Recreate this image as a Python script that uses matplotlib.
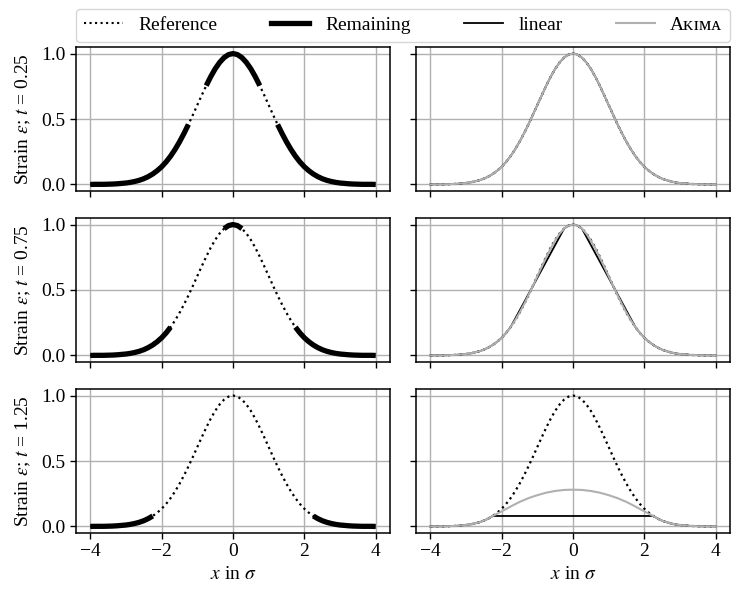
import numpy as np
import matplotlib
matplotlib.use("Agg")
import matplotlib.pyplot as plt
from matplotlib.lines import Line2D

plt.rcParams['font.family'] = ['Liberation Serif', 'DejaVu Serif']
plt.rcParams['mathtext.fontset'] = 'stix'
plt.rcParams['font.size'] = 14

# Sample positions (step 0.125 on [-4, 4]) and the reference strain profile
x_ref = np.linspace(-4, 4, 65)
y_ref = [0.000, 0.001, 0.001, 0.001, 0.002, 0.003, 0.005, 0.008,
         0.011, 0.016, 0.023, 0.032, 0.044, 0.060, 0.080, 0.105,
         0.135, 0.172, 0.216, 0.267, 0.325, 0.389, 0.458, 0.531,
         0.607, 0.682, 0.755, 0.823, 0.883, 0.932, 0.969, 0.992,
         1.000,
         0.992, 0.969, 0.932, 0.883, 0.823, 0.755, 0.682, 0.607,
         0.531, 0.458, 0.389, 0.325, 0.267, 0.216, 0.172, 0.135,
         0.105, 0.080, 0.060, 0.044, 0.032, 0.023, 0.016, 0.011,
         0.008, 0.005, 0.003, 0.002, 0.001, 0.001, 0.001, 0.000]

t_values = [0.25, 0.75, 1.25]
# removed (missing) x-intervals for each t
gaps = {
    0.25: [(-1.25, -0.75), (0.75, 1.25)],
    0.75: [(-1.75, -0.25), (0.25, 1.75)],
    1.25: [(-2.25, 2.25)],
}
# Akima reconstruction inside the gaps (x positions, values)
akima_gap = {
    0.25: [
        ([-1.25, -1.125, -1.0, -0.875, -0.75], [0.458, 0.531, 0.607, 0.682, 0.755]),
        ([0.75, 0.875, 1.0, 1.125, 1.25], [0.755, 0.682, 0.607, 0.531, 0.458]),
    ],
    0.75: [
        ([-1.75, -1.625, -1.5, -1.375, -1.25, -1.125, -1.0, -0.875, -0.75, -0.625, -0.5, -0.375, -0.25],
         [0.216, 0.268, 0.326, 0.390, 0.459, 0.531, 0.605, 0.678, 0.750, 0.818, 0.879, 0.930, 0.969]),
        ([0.25, 0.375, 0.5, 0.625, 0.75, 0.875, 1.0, 1.125, 1.25, 1.375, 1.5, 1.625, 1.75],
         [0.969, 0.930, 0.879, 0.818, 0.750, 0.678, 0.605, 0.531, 0.459, 0.390, 0.326, 0.268, 0.216]),
    ],
    1.25: [
        ([-2.25, -2.0, -1.75, -1.5, -1.25, -1.0, -0.75, -0.5, -0.25, 0.0,
          0.25, 0.5, 0.75, 1.0, 1.25, 1.5, 1.75, 2.0, 2.25],
         [0.080, 0.115, 0.152, 0.187, 0.216, 0.239, 0.258, 0.271, 0.279, 0.281,
          0.279, 0.271, 0.258, 0.239, 0.216, 0.187, 0.152, 0.115, 0.080]),
    ],
}

x_ticks = [-4, -2, 0, 2, 4]
y_ticks = [0.0, 0.5, 1.0]
legend_labels = ["Reference", "Remaining", "linear", "A\u1d0b\u026a\u1d0d\u1d00"]

grey = '#b0b0b0'
W, H = 743, 594
fig, axes = plt.subplots(3, 2, figsize=(W / 100, H / 100), dpi=100,
                         sharex=True, sharey=True)
fig.subplots_adjust(left=76 / W, right=730 / W, top=1 - 47 / H,
                    bottom=1 - 533 / H, wspace=26 / 314, hspace=27 / 144)

x_arr = np.asarray(x_ref)
y_arr = np.asarray(y_ref, dtype=float)

for i, t in enumerate(t_values):
    inside = np.zeros_like(x_arr, dtype=bool)
    for a, b in gaps[t]:
        inside |= (x_arr > a + 1e-9) & (x_arr < b - 1e-9)
    y_rem = np.where(inside, np.nan, y_arr)

    axl, axr = axes[i, 0], axes[i, 1]
    for ax in (axl, axr):
        ax.grid(True, color='#b0b0b0', lw=1.0)
        ax.set_axisbelow(True)
        ax.plot(x_arr, y_arr, ls=':', color='black', lw=1.6)

    axl.plot(x_arr, y_rem, color='black', lw=3.8, solid_capstyle='butt')

    # linear: straight lines across the gaps between remaining points
    axr.plot(x_arr[~inside], y_arr[~inside], color='black', lw=1.3)

    # Akima: remaining data plus reconstructed gap values
    xs = list(x_arr[~inside])
    ys = list(y_arr[~inside])
    for gx, gy in akima_gap[t]:
        xs += gx
        ys += gy
    order = np.argsort(xs, kind='stable')
    axr.plot(np.asarray(xs)[order], np.asarray(ys)[order], color=grey, lw=1.5)

    axl.set_ylabel("Strain $\\varepsilon$; $t$ = %s" % t, labelpad=6)

for ax in axes.flat:
    ax.set_xticks(x_ticks)
    ax.set_yticks(y_ticks)
    ax.tick_params(length=4, width=1.0, color='black')
    for s in ax.spines.values():
        s.set_linewidth(1.1)
for ax in axes[2]:
    ax.set_xlabel(r"$x$ in $\sigma$")

handles = [
    Line2D([], [], ls=':', color='black', lw=1.5),
    Line2D([], [], color='black', lw=3.8),
    Line2D([], [], color='black', lw=1.3),
    Line2D([], [], color=grey, lw=1.5),
]
fig.legend(handles, legend_labels, ncol=4, mode='expand', loc='lower left',
           bbox_to_anchor=(76 / W, 1 - 42 / H, 654 / W, 35 / H),
           borderaxespad=0, fontsize=14, handlelength=2.0,
           borderpad=0.4)

fig.savefig("out.png", dpi=100)
